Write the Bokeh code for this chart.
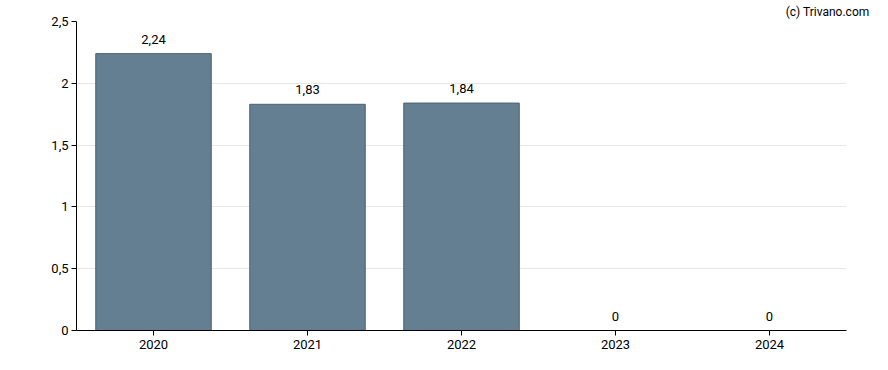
from bokeh.plotting import figure
from bokeh.models import ColumnDataSource, FixedTicker, CustomJSTickFormatter, Title
from bokeh.core.properties import value
from bokeh.embed import file_html
from bokeh.resources import INLINE

years = ["2020", "2021", "2022", "2023", "2024"]
values = [2.24, 1.83, 1.84, 0, 0]
y_ticks = [0, 0.5, 1, 1.5, 2, 2.5]
labels = [f"{v:g}".replace(".", ",") for v in values]

FONT = "Roboto"

src = ColumnDataSource(dict(x=years, top=values, label=labels))

p = figure(x_range=years, y_range=(0, 2.5), width=872, height=354,
           output_backend="svg", toolbar_location=None,
           min_border_left=76, min_border_right=26, min_border_top=0, min_border_bottom=24)
p.outline_line_color = None

title = Title(text="(c) Trivano.com", align="right", offset=-23,
              text_font=FONT, text_font_size="12px", text_font_style="normal",
              text_color="#000000", standoff=5)
p.add_layout(title, "above")

p.vbar(x="x", top="top", width=0.75, source=src,
       fill_color="#647f91", line_color="#4a6275", line_width=1)

p.text(x="x", y="top", text="label", source=src, y_offset=-10,
       text_align="center", text_baseline="bottom",
       text_font=value(FONT), text_font_size="13px", text_color="#000000")

p.yaxis.ticker = FixedTicker(ticks=y_ticks)
p.yaxis.formatter = CustomJSTickFormatter(code="return tick.toString().replace('.', ',');")
for ax in (p.xaxis[0], p.yaxis[0]):
    ax.axis_line_color = "#000000"
    ax.major_tick_line_color = "#000000"
    ax.major_tick_out = 5
    ax.major_tick_in = 0
    ax.minor_tick_line_color = None
    ax.major_label_text_font = FONT
    ax.major_label_text_font_size = "13px"
    ax.major_label_text_color = "#000000"
p.xaxis.major_label_standoff = 4
p.yaxis.major_label_standoff = 3

p.xgrid.grid_line_color = None
p.ygrid.grid_line_color = "#e6e6e6"
p.ygrid.ticker = FixedTicker(ticks=y_ticks)

open("out.html", "w").write(file_html(p, INLINE))
